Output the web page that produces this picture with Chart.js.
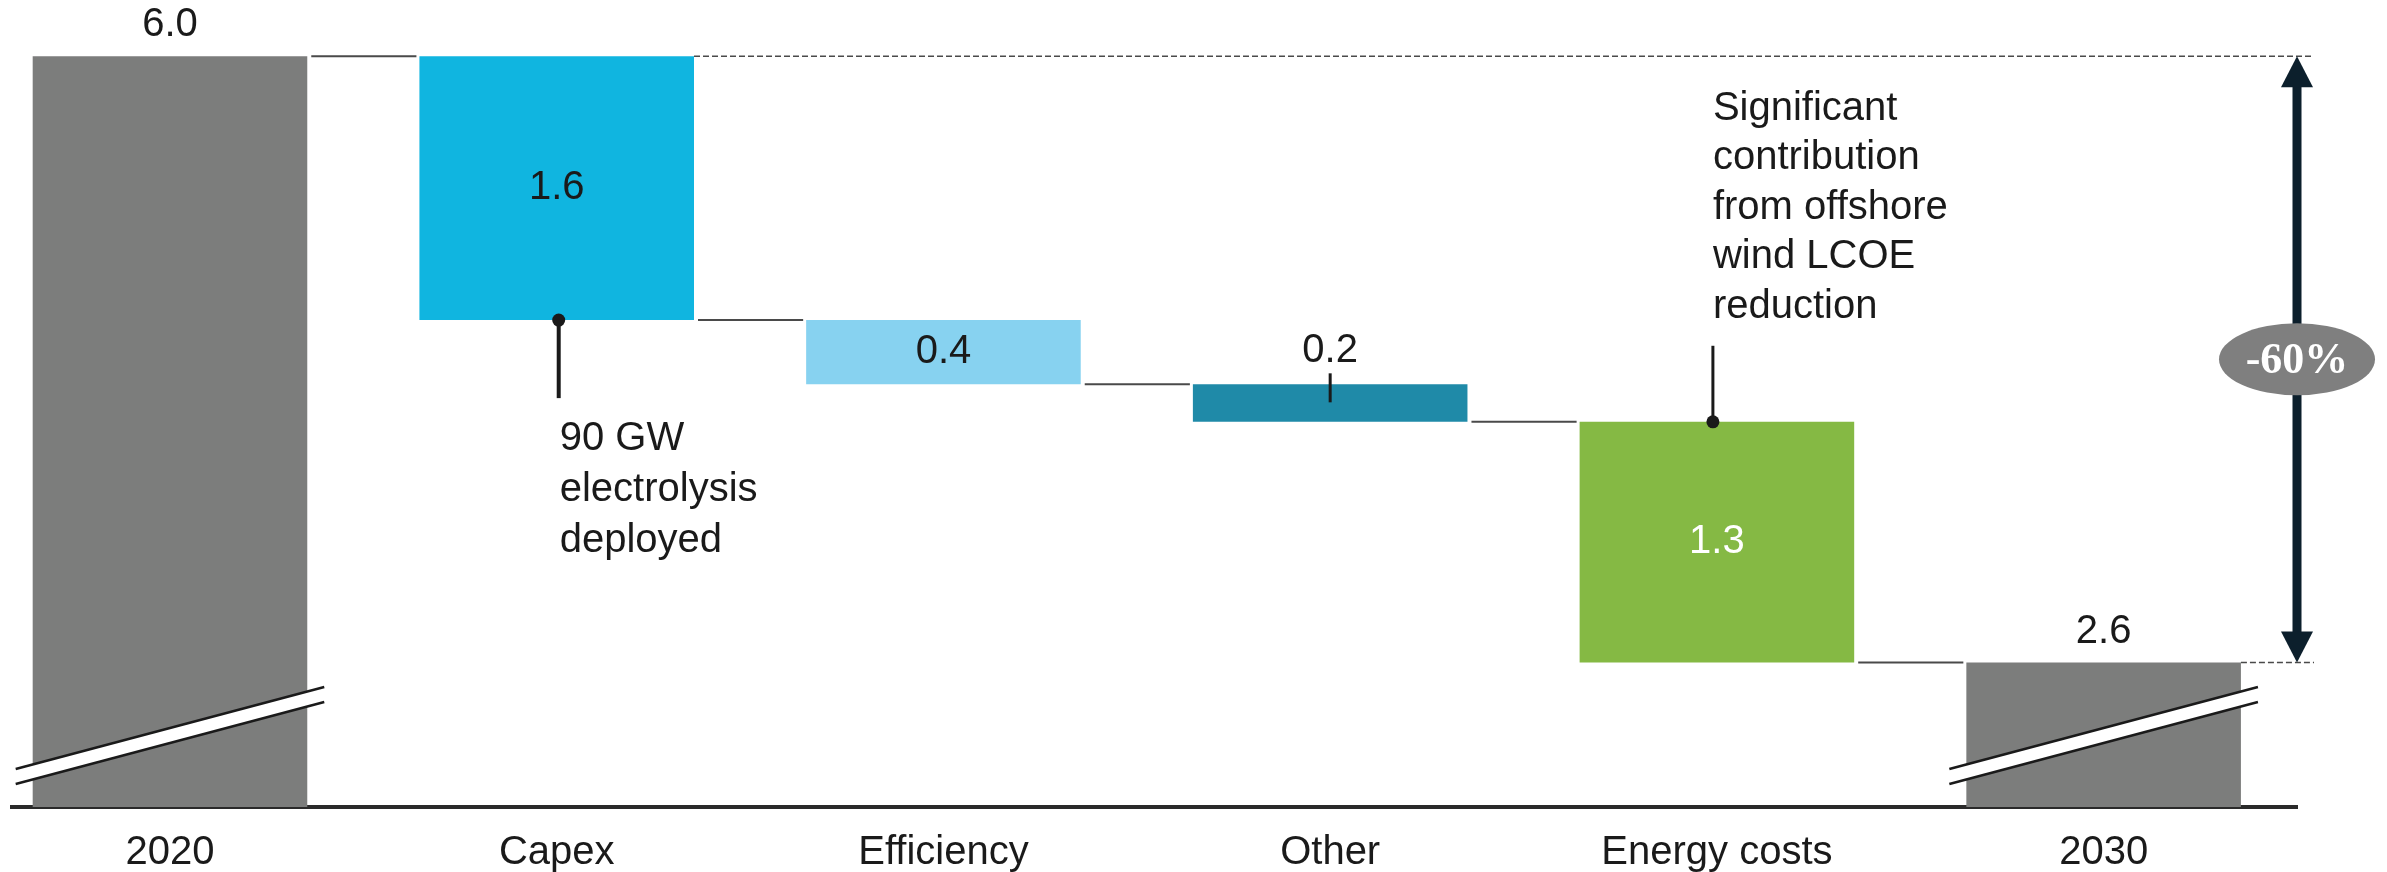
<!DOCTYPE html>
<html>
<head>
<meta charset="utf-8">
<script src="https://cdn.jsdelivr.net/npm/chart.js@4.4.1/dist/chart.umd.min.js"></script>
<style>
  html, body { margin: 0; padding: 0; background: #fff; }
  #wrap { width: 2387px; height: 872px; position: relative; }
</style>
</head>
<body>
<div id="wrap"><canvas id="chart"></canvas></div>
<script>
// categories and shown values
const categories = ["2020", "Capex", "Efficiency", "Other", "Energy costs", "2030"];
const values = [6.0, 1.6, 0.4, 0.2, 1.3, 2.6];
// level after each step (the drawing is not fully to scale)
const stepLevels = [6.0, 4.52, 4.16, 3.95, 2.6];
const barColors = ["#7c7d7c", "#10b5e0", "#87d2f0", "#1f8aa8", "#85b944", "#7c7d7c"];
const noteCapex = ["90 GW", "electrolysis", "deployed"];
const noteEnergy = ["Significant", "contribution", "from offshore", "wind LCOE", "reduction"];
const changeLabel = "-60%";

// broken axis: the bottom of the plot is not zero
const y_Min = 1.79;
const y_Max = 6.315;
const font_Main = '"Liberation Sans", Arial, sans-serif';

const bar_Data = categories.map((c, i) => {
  let range;
  if (i === 0) range = [y_Min, stepLevels[0]];
  else if (i === categories.length - 1) range = [y_Min, stepLevels[stepLevels.length - 1]];
  else range = [stepLevels[i], stepLevels[i - 1]];
  return { x: i, y: range };
});

function draw_Line(ctx, x1, y1, x2, y2) {
  ctx.beginPath();
  ctx.moveTo(x1, y1);
  ctx.lineTo(x2, y2);
  ctx.stroke();
}

function draw_Break(ctx, bar, axisY) {
  const x0 = bar.x - bar.width / 2 - 17;
  const x1 = bar.x + bar.width / 2 + 17;
  const yb0 = axisY - 23;
  const yb1 = axisY - 105;
  const gap = 15;
  ctx.save();
  ctx.fillStyle = "#ffffff";
  ctx.beginPath();
  ctx.moveTo(x0, yb0);
  ctx.lineTo(x1, yb1);
  ctx.lineTo(x1, yb1 - gap);
  ctx.lineTo(x0, yb0 - gap);
  ctx.closePath();
  ctx.fill();
  ctx.strokeStyle = "#1a1a1a";
  ctx.lineWidth = 2.5;
  draw_Line(ctx, x0, yb0, x1, yb1);
  draw_Line(ctx, x0, yb0 - gap, x1, yb1 - gap);
  ctx.restore();
}

const extras_Plugin = {
  id: "waterfallExtras",
  afterDatasetsDraw(chart) {
    const ctx = chart.ctx;
    const bars = chart.getDatasetMeta(0).data;
    const xs = chart.scales.x;
    const ys = chart.scales.y;
    const axisY = chart.chartArea.bottom;
    const topY = ys.getPixelForValue(stepLevels[0]);
    const endY = ys.getPixelForValue(stepLevels[stepLevels.length - 1]);
    const arrowX = xs.getPixelForValue(5.5);

    // connectors between steps
    ctx.save();
    ctx.strokeStyle = "#4a4a4a";
    ctx.lineWidth = 2;
    for (let i = 0; i < bars.length - 1; i++) {
      const lvl = ys.getPixelForValue(stepLevels[i]);
      const xa = bars[i].x + bars[i].width / 2 + 4;
      const xb = bars[i + 1].x - bars[i + 1].width / 2 - 3;
      draw_Line(ctx, xa, lvl, xb, lvl);
    }
    // dashed reference lines
    ctx.setLineDash([6, 3]);
    ctx.lineWidth = 1.5;
    draw_Line(ctx, bars[1].x + bars[1].width / 2, topY, arrowX + 17, topY);
    draw_Line(ctx, bars[5].x + bars[5].width / 2, endY, arrowX + 17, endY);
    ctx.restore();

    // axis break marks
    draw_Break(ctx, bars[0], axisY);
    draw_Break(ctx, bars[5], axisY);

    // value labels
    ctx.save();
    ctx.font = "40px " + font_Main;
    ctx.textAlign = "center";
    ctx.textBaseline = "middle";
    bars.forEach((bar, i) => {
      const txt = values[i].toFixed(1);
      let ty;
      if (i === 0 || i === 5) ty = bar.y - 31;
      else if (i === 3) ty = bar.y - 33;
      else ty = (bar.y + bar.base) / 2;
      ctx.fillStyle = i === 4 ? "#ffffff" : "#1a1a1a";
      ctx.fillText(txt, bar.x, ty);
    });
    ctx.restore();

    // leaders and notes
    ctx.save();
    ctx.strokeStyle = "#1a1a1a";
    ctx.fillStyle = "#1a1a1a";
    const capex = bars[1];
    const capexBottom = Math.max(capex.y, capex.base);
    ctx.lineWidth = 4;
    draw_Line(ctx, capex.x + 2, capexBottom, capex.x + 2, capexBottom + 78);
    ctx.beginPath();
    ctx.arc(capex.x + 2, capexBottom, 6.5, 0, Math.PI * 2);
    ctx.fill();

    const other = bars[3];
    ctx.lineWidth = 3;
    draw_Line(ctx, other.x, other.y - 11, other.x, other.y + 18);

    const energy = bars[4];
    const energyTop = Math.min(energy.y, energy.base);
    const ex = energy.x - 4;
    draw_Line(ctx, ex, energyTop, ex, energyTop - 76);
    ctx.beginPath();
    ctx.arc(ex, energyTop, 6.5, 0, Math.PI * 2);
    ctx.fill();

    ctx.font = "40px " + font_Main;
    ctx.textAlign = "left";
    ctx.textBaseline = "middle";
    noteCapex.forEach((line, k) => {
      ctx.fillText(line, capex.x + 3, capexBottom + 119 + k * 51);
    });
    noteEnergy.forEach((line, k) => {
      ctx.fillText(line, ex, energyTop - 115 - (noteEnergy.length - 1 - k) * 49.5);
    });
    ctx.restore();

    // double arrow with change bubble
    ctx.save();
    ctx.fillStyle = "#0c1f2c";
    ctx.strokeStyle = "#0c1f2c";
    ctx.lineWidth = 9;
    draw_Line(ctx, arrowX, topY + 26, arrowX, endY - 26);
    ctx.beginPath();
    ctx.moveTo(arrowX, topY);
    ctx.lineTo(arrowX - 16, topY + 31);
    ctx.lineTo(arrowX + 16, topY + 31);
    ctx.closePath();
    ctx.fill();
    ctx.beginPath();
    ctx.moveTo(arrowX, endY);
    ctx.lineTo(arrowX - 16, endY - 31);
    ctx.lineTo(arrowX + 16, endY - 31);
    ctx.closePath();
    ctx.fill();

    const midY = (topY + endY) / 2;
    ctx.fillStyle = "#7f7f7f";
    ctx.beginPath();
    ctx.ellipse(arrowX, midY, 78, 36, 0, 0, Math.PI * 2);
    ctx.fill();
    ctx.fillStyle = "#ffffff";
    ctx.font = 'bold 44px "Liberation Serif", "Times New Roman", serif';
    ctx.textAlign = "center";
    ctx.textBaseline = "middle";
    ctx.fillText(changeLabel, arrowX, midY + 2);
    ctx.restore();
  },
};

const chart_Canvas = document.getElementById("chart");
const grafica = new Chart(chart_Canvas, {
  type: "bar",
  data: {
    datasets: [
      {
        data: bar_Data,
        backgroundColor: barColors,
        borderWidth: 0,
        barPercentage: 0.71,
        categoryPercentage: 1.0,
      },
    ],
  },
  options: {
    responsive: true,
    maintainAspectRatio: false,
    animation: false,
    layout: { padding: { left: 12, right: 90, top: 0, bottom: 0 } },
    plugins: {
      legend: { display: false },
      tooltip: { enabled: false },
    },
    scales: {
      x: {
        type: "linear",
        min: -0.4085,
        max: 5.5,
        offset: false,
        grid: { display: false, drawTicks: false, offset: false },
        border: { display: true, color: "#2a2a2a", width: 4 },
        afterBuildTicks: (scale) => {
          scale.ticks = categories.map((c, i) => ({ value: i }));
        },
        afterFit: (scale) => {
          scale.height = 65;
        },
        ticks: {
          padding: 24,
          autoSkip: false,
          maxRotation: 0,
          color: "#1a1a1a",
          font: { family: font_Main, size: 40, lineHeight: 1.1 },
          callback: (value) => categories[value],
        },
      },
      y: {
        display: false,
        min: y_Min,
        max: y_Max,
      },
    },
  },
  plugins: [extras_Plugin],
});
</script>
</body>
</html>
